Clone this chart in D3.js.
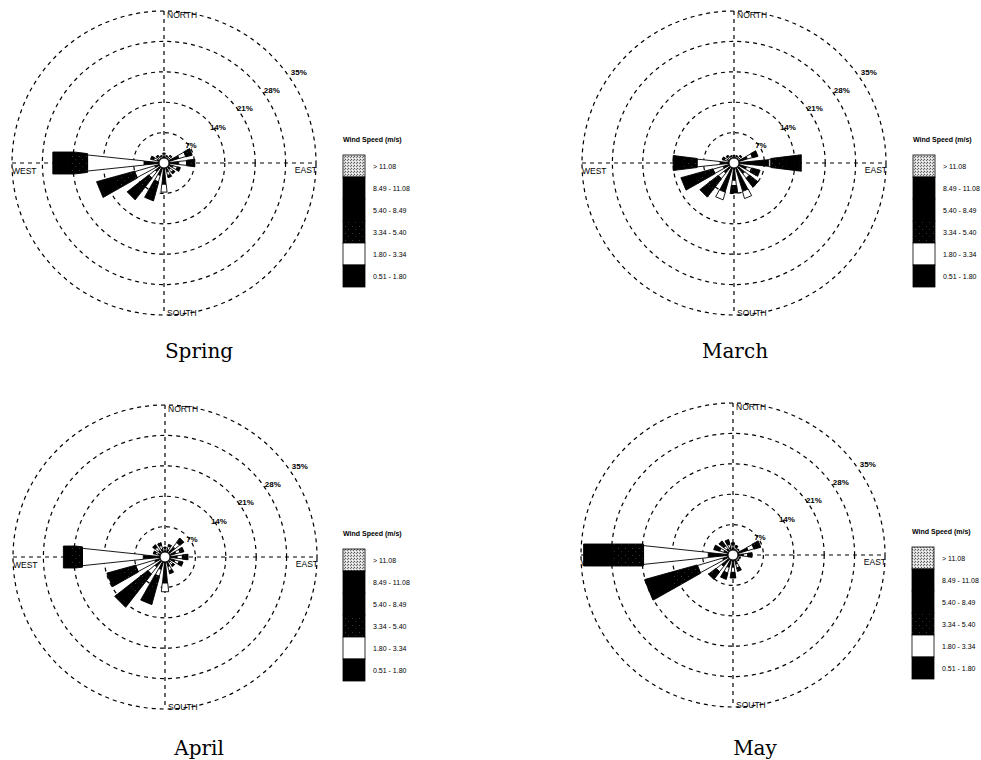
<!DOCTYPE html>
<html>
<head>
<meta charset="utf-8">
<script src="https://cdn.jsdelivr.net/npm/d3@7"></script>
<style>
  body { margin: 0; background: #fff; }
  svg { display: block; }
</style>
</head>
<body>
<svg id="chart" width="981" height="760"></svg>
<script>
// ---- data -------------------------------------------------------------
const directions = ["N","NNE","NE","ENE","E","ESE","SE","SSE","S","SSW","SW","WSW","W","WNW","NW","NNW"];
const speedClasses = ["0.51 - 1.80","1.80 - 3.34","3.34 - 5.40","5.40 - 8.49","8.49 - 11.08","> 11.08"];
const ringTicks = [7, 14, 21, 28, 35];
const compassNames = ["NORTH", "EAST", "SOUTH", "WEST"];
const legendTitle = "Wind Speed (m/s)";
const periodNames = ["Spring", "March", "April", "May"];

// frequency (%) for each direction (N clockwise), split by speed class
const springFreq = [
  [1.5, 0.6, 0.2, 0.0, 0.0, 0],
  [1.2, 0.4, 0.2, 0.0, 0.0, 0],
  [1.4, 0.6, 0.3, 0.0, 0.0, 0],
  [3.6, 1.6, 1.2, 0.3, 0.0, 0],
  [3.4, 1.8, 1.4, 0.5, 0.0, 0],
  [2.2, 1.0, 0.5, 0.2, 0.0, 0],
  [1.9, 0.8, 0.4, 0.1, 0.0, 0],
  [2.1, 0.9, 0.4, 0.1, 0.0, 0],
  [4.9, 1.8, 0.0, 0.0, 0.0, 0],
  [3.0, 1.5, 3.0, 1.3, 0.2, 0],
  [2.6, 1.8, 3.8, 2.2, 0.3, 0],
  [2.2, 4.8, 5.2, 3.2, 0.6, 0],
  [4.6, 13.0, 4.5, 2.7, 0.8, 0],
  [1.6, 0.9, 0.5, 0.2, 0.0, 0],
  [1.3, 0.6, 0.3, 0.1, 0.0, 0],
  [1.1, 0.5, 0.2, 0.0, 0.0, 0]
];
const marchFreq = [
  [1.1, 0.5, 0.2, 0.0, 0.0, 0],
  [1.1, 0.5, 0.2, 0.0, 0.0, 0],
  [1.4, 0.6, 0.3, 0.0, 0.0, 0],
  [3.2, 1.2, 1.0, 0.3, 0.0, 0],
  [8.0, 0.5, 3.5, 3.0, 0.5, 0],
  [3.0, 1.2, 1.5, 0.5, 0.0, 0],
  [3.2, 1.3, 1.8, 0.7, 0.0, 0],
  [6.8, 1.7, 0.0, 0.0, 0.0, 0],
  [4.0, 1.2, 1.2, 0.5, 0.0, 0],
  [7.0, 1.8, 0.0, 0.0, 0.0, 0],
  [3.0, 1.6, 3.3, 1.8, 0.2, 0],
  [2.6, 2.4, 4.4, 2.7, 0.5, 0],
  [3.2, 5.3, 3.3, 1.8, 0.4, 0],
  [1.5, 0.8, 0.4, 0.1, 0.0, 0],
  [1.3, 0.6, 0.3, 0.1, 0.0, 0],
  [1.1, 0.5, 0.2, 0.0, 0.0, 0]
];
const aprilFreq = [
  [1.4, 0.6, 0.3, 0.0, 0.0, 0],
  [1.8, 0.8, 0.4, 0.0, 0.0, 0],
  [3.0, 1.3, 1.0, 0.2, 0.0, 0],
  [2.6, 1.0, 0.7, 0.2, 0.0, 0],
  [2.8, 1.2, 1.0, 0.3, 0.0, 0],
  [2.4, 1.0, 0.7, 0.2, 0.0, 0],
  [1.6, 0.7, 0.4, 0.1, 0.0, 0],
  [2.3, 1.0, 0.5, 0.2, 0.0, 0],
  [6.0, 2.0, 0.0, 0.0, 0.0, 0],
  [3.0, 1.6, 4.0, 2.3, 0.4, 0],
  [3.0, 2.0, 5.5, 3.4, 0.7, 0],
  [2.5, 4.5, 4.0, 2.3, 0.5, 0],
  [5.0, 14.0, 2.5, 1.5, 0.4, 0],
  [1.6, 0.7, 0.4, 0.1, 0.0, 0],
  [2.0, 0.9, 0.5, 0.2, 0.0, 0],
  [1.9, 0.9, 0.5, 0.1, 0.0, 0]
];
const mayFreq = [
  [1.6, 0.7, 0.4, 0.1, 0.0, 0],
  [1.3, 0.6, 0.3, 0.1, 0.0, 0],
  [1.1, 0.5, 0.2, 0.0, 0.0, 0],
  [3.6, 1.4, 1.2, 0.4, 0.0, 0],
  [2.4, 1.0, 0.8, 0.2, 0.0, 0],
  [1.1, 0.5, 0.2, 0.0, 0.0, 0],
  [1.1, 0.5, 0.2, 0.0, 0.0, 0],
  [2.2, 0.9, 0.6, 0.2, 0.0, 0],
  [2.8, 1.2, 1.0, 0.3, 0.0, 0],
  [3.0, 1.3, 1.1, 0.4, 0.0, 0],
  [3.4, 1.5, 1.6, 0.6, 0.0, 0],
  [2.5, 6.0, 7.0, 4.5, 1.0, 0],
  [5.7, 14.9, 7.0, 5.5, 1.3, 0],
  [2.2, 1.0, 1.0, 0.4, 0.0, 0],
  [1.9, 0.8, 1.0, 0.4, 0.0, 0],
  [1.8, 0.8, 0.8, 0.3, 0.0, 0]
];

// ---- layout -----------------------------------------------------------
const panels = [
  { name: periodNames[0], freq: springFreq, cx: 164, cy: 163, legendX: 343, capX: 199, capY: 358 },
  { name: periodNames[1], freq: marchFreq,  cx: 734, cy: 163, legendX: 913, capX: 735, capY: 358 },
  { name: periodNames[2], freq: aprilFreq,  cx: 165, cy: 557, legendX: 343, capX: 199, capY: 755 },
  { name: periodNames[3], freq: mayFreq,    cx: 733, cy: 555, legendX: 912, capX: 755, capY: 755 }
];

const R = 152;          // outer ring radius
const calmR = 5;        // calm circle
const svg = d3.select("#chart");

const rScale = d3.scaleLinear().domain([0, 35]).range([0, R]);
const bearing = d3.scalePoint().domain(directions).range([0, 337.5]);

// angular half-width (deg) of each speed-class segment, and max half-width (px)
const halfAngle = [5.5, 6, 7, 7, 7, 7];
const capHalf = 11;

// fills
const defs = svg.append("defs");
const stipple = defs.append("pattern")
  .attr("id", "stipple").attr("patternUnits", "userSpaceOnUse")
  .attr("width", 3).attr("height", 3);
stipple.append("rect").attr("width", 3).attr("height", 3).attr("fill", "#d8d8d8");
stipple.append("rect").attr("x", 0).attr("y", 0).attr("width", 1).attr("height", 1).attr("fill", "#555");
stipple.append("rect").attr("x", 2).attr("y", 1).attr("width", 1).attr("height", 1).attr("fill", "#777");
stipple.append("rect").attr("x", 1).attr("y", 2).attr("width", 1).attr("height", 1).attr("fill", "#fff");

const speck = defs.append("pattern")
  .attr("id", "speck").attr("patternUnits", "userSpaceOnUse")
  .attr("width", 7).attr("height", 7);
speck.append("rect").attr("width", 7).attr("height", 7).attr("fill", "#000");
speck.append("rect").attr("x", 2).attr("y", 2).attr("width", 1).attr("height", 1).attr("fill", "#3a3a3a");
speck.append("rect").attr("x", 5).attr("y", 5).attr("width", 1).attr("height", 1).attr("fill", "#2a2a2a");

const classFill = ["#000", "#fff", "url(#speck)", "#000", "#000", "url(#stipple)"];

const line = d3.line();

function segmentPoints(r0, r1, k) {
  const t = Math.tan(halfAngle[k] * Math.PI / 180);
  const hw = rr => Math.min(rr * t, capHalf);
  const us = [r0];
  const rc = capHalf / t;
  if (rc > r0 && rc < r1) us.push(rc);
  us.push(r1);
  const upper = us.map(u => [u, -hw(u)]);
  const lower = us.slice().reverse().map(u => [u, hw(u)]);
  return upper.concat(lower);
}

function toScreen(p, cx, cy, deg) {
  const a = deg * Math.PI / 180;
  const s = Math.sin(a), c = Math.cos(a);
  const [u, v] = p;
  return [cx + u * s + v * c, cy - u * c + v * s];
}

panels.forEach(pn => {
  const g = svg.append("g");
  const { cx, cy } = pn;

  // dashed rings
  g.selectAll("circle.ring").data(ringTicks).join("circle")
    .attr("class", "ring")
    .attr("cx", cx).attr("cy", cy).attr("r", d => rScale(d))
    .attr("fill", "none").attr("stroke", "#000")
    .attr("stroke-width", 1.2).attr("stroke-dasharray", "4,4");

  // dashed compass axes
  g.append("line").attr("x1", cx - R).attr("x2", cx + R).attr("y1", cy).attr("y2", cy)
    .attr("stroke", "#000").attr("stroke-width", 1.2).attr("stroke-dasharray", "4,4");
  g.append("line").attr("x1", cx).attr("x2", cx).attr("y1", cy - R).attr("y2", cy + R)
    .attr("stroke", "#000").attr("stroke-width", 1.2).attr("stroke-dasharray", "4,4");

  // petals
  const petals = g.append("g");
  pn.freq.forEach((vals, i) => {
    const deg = bearing(directions[i]);
    let cum = 0;
    vals.forEach((v, k) => {
      if (v <= 0) return;
      const r0 = rScale(cum), r1 = rScale(cum + v);
      cum += v;
      const pts = segmentPoints(r0, r1, k).map(p => toScreen(p, cx, cy, deg));
      petals.append("path")
        .attr("d", line(pts) + "Z")
        .attr("fill", classFill[k])
        .attr("stroke", "#000").attr("stroke-width", 0.9)
        .attr("stroke-linejoin", "miter");
    });
  });

  // calm circle
  g.append("circle").attr("cx", cx).attr("cy", cy).attr("r", calmR)
    .attr("fill", "#fff").attr("stroke", "#000").attr("stroke-width", 1);

  // ring labels
  const la = 34 * Math.PI / 180;
  g.selectAll("text.ringlab").data(ringTicks).join("text")
    .attr("class", "ringlab")
    .attr("x", d => cx + rScale(d) * 1.07 * Math.cos(la))
    .attr("y", d => cy - rScale(d) * 1.07 * Math.sin(la) + 3)
    .attr("text-anchor", "middle")
    .attr("font-family", "'Liberation Sans Narrow','Liberation Sans',Arial,sans-serif")
    .attr("font-weight", "bold").attr("font-size", 8)
    .text(d => d + "%");

  // compass names
  const ff = "'Liberation Sans',Arial,sans-serif";
  const north = g.append("text").attr("x", cx + 3).attr("y", cy - R + 7).text(compassNames[0]);
  const east  = g.append("text").attr("x", cx + R + 1).attr("y", cy + 10).attr("text-anchor", "end").text(compassNames[1]);
  const south = g.append("text").attr("x", cx + 3).attr("y", cy + R + 1).text(compassNames[2]);
  const west  = g.append("text").attr("x", cx - R).attr("y", cy + 11).text(compassNames[3]);
  [north, east, south, west].forEach(t => t.attr("font-family", ff).attr("font-size", 8.5));

  // legend
  const lx = pn.legendX, top = cy - 8, cellH = 22, cellW = 22;
  const lg = g.append("g");
  lg.append("text").attr("x", lx).attr("y", cy - 21)
    .attr("font-family", ff)
    .attr("font-weight", "bold").attr("font-size", 7).text(legendTitle);
  const order = d3.range(speedClasses.length).reverse();
  order.forEach((k, j) => {
    lg.append("rect").attr("x", lx).attr("y", top + j * cellH)
      .attr("width", cellW).attr("height", cellH)
      .attr("fill", classFill[k]).attr("stroke", "#000").attr("stroke-width", 0.8);
    lg.append("text").attr("x", lx + cellW + 8).attr("y", top + j * cellH + cellH / 2 + 3)
      .attr("font-family", ff)
      .attr("font-size", 7).text(speedClasses[k]);
  });

  // period caption
  g.append("text").attr("x", pn.capX).attr("y", pn.capY)
    .attr("text-anchor", "middle")
    .attr("font-family", "'DejaVu Serif','Liberation Serif',serif")
    .attr("font-size", 20).text(pn.name);
});
</script>
</body>
</html>
